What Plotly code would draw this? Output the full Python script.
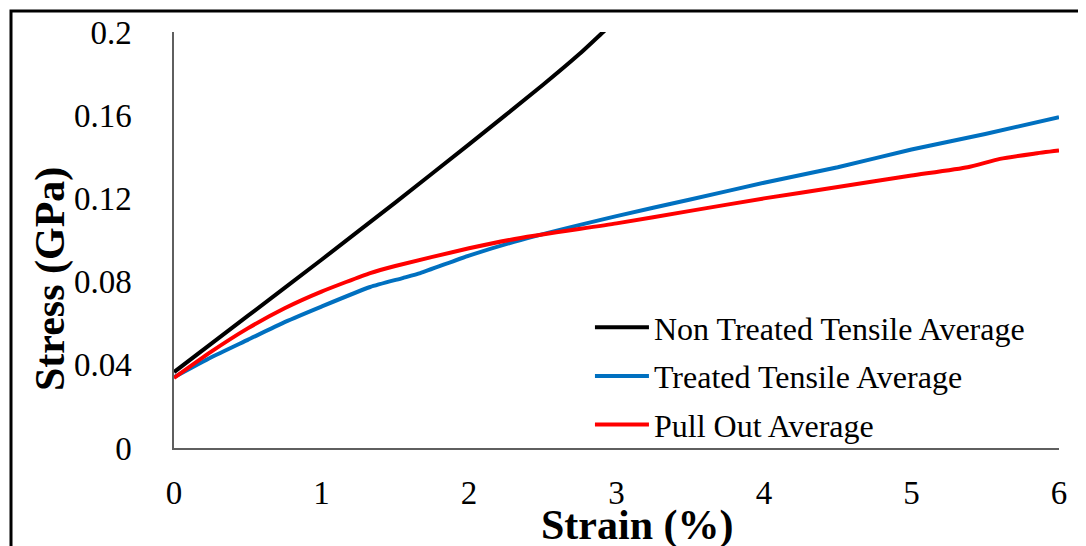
import plotly.graph_objects as go

# Data
strain_non_treated = [0, 0.5, 1.0, 1.5, 2.0, 2.5, 2.75, 2.91, 3.0]
stress_non_treated = [0.0365, 0.0635, 0.0905, 0.118, 0.146, 0.1745, 0.1895, 0.200, 0.2055]

strain_treated = [0, 0.25, 0.5, 0.75, 1.0, 1.33, 1.55, 1.67, 2.0, 2.35, 3.0, 3.5, 4.0, 4.5, 5.0, 5.5, 6.0]
stress_treated = [0.034, 0.0435, 0.052, 0.0605, 0.068, 0.0774, 0.0817, 0.0841, 0.0925, 0.100, 0.1115, 0.1195, 0.1275, 0.135, 0.1435, 0.151, 0.159]

strain_pull = [0, 0.25, 0.5, 0.75, 1.0, 1.33, 1.5, 2.0, 2.35, 3.0, 3.5, 4.0, 4.5, 5.0, 5.38, 5.6, 5.83, 6.0]
stress_pull = [0.0337, 0.0462, 0.0575, 0.0672, 0.0752, 0.0841, 0.0875, 0.0960, 0.101, 0.108, 0.114, 0.120, 0.1255, 0.131, 0.135, 0.139, 0.1415, 0.143]

x_ticks = [0, 1, 2, 3, 4, 5, 6]
y_ticks = [0, 0.04, 0.08, 0.12, 0.16, 0.2]
y_tick_labels = ["0", "0.04", "0.08", "0.12", "0.16", "0.2"]

series = [
    ("Non Treated Tensile Average", strain_non_treated, stress_non_treated, "#000000"),
    ("Treated Tensile Average", strain_treated, stress_treated, "#0070C0"),
    ("Pull Out Average", strain_pull, stress_pull, "#FF0000"),
]

FONT = "Liberation Serif, Times New Roman, serif"

fig = go.Figure()
for i, (name, xs, ys, color) in enumerate(series):
    fig.add_trace(go.Scatter(
        x=xs, y=ys, name=name, mode="lines",
        line=dict(color=color, width=4, shape="spline", smoothing=0.5),
        legendgroup=str(i),
    ))

# The page body has an 8px default margin, so the figure is 8px smaller and shifted.
fig.update_layout(
    width=1078, height=538,
    margin=dict(l=166, r=27, t=24, b=98, autoexpand=False),
    paper_bgcolor="white", plot_bgcolor="white",
    font=dict(family=FONT, size=32, color="black"),
    showlegend=True,
    legend=dict(
        x=0.470, y=0.173, xanchor="left", yanchor="middle",
        bgcolor="rgba(0,0,0,0)",
        font=dict(family=FONT, size=32, color="black"),
        itemwidth=54,
        tracegroupgap=4,
        traceorder="grouped",
    ),
    xaxis=dict(
        range=[0, 6], tickvals=x_ticks, ticktext=[str(v) for v in x_ticks],
        showgrid=False, zeroline=False, showline=True, automargin=False,
        linecolor="#5f5f5f", linewidth=1.5, ticks="",
        tickfont=dict(family=FONT, size=33, color="black"),
        ticklabelstandoff=15,
    ),
    yaxis=dict(
        range=[0, 0.2], tickvals=y_ticks, ticktext=y_tick_labels,
        showgrid=False, zeroline=False, showline=True, automargin=False,
        linecolor="#5f5f5f", linewidth=1.5, ticks="",
        tickfont=dict(family=FONT, size=33, color="black"),
        ticklabelstandoff=34,
    ),
    annotations=[
        dict(text="<b>Strain (%)</b>", xref="paper", yref="paper",
             x=(637 - 174) / 885, y=(448 - 525) / 416, xanchor="center", yanchor="middle",
             showarrow=False, font=dict(family=FONT, size=42, color="black")),
        dict(text="<b>Stress (GPa)</b>", xref="paper", yref="paper", textangle=-90,
             x=(50 - 174) / 885, y=(448 - 279) / 416, xanchor="center", yanchor="middle",
             showarrow=False, font=dict(family=FONT, size=42, color="black")),
    ],
    shapes=[
        dict(type="rect", xref="paper", yref="paper",
             x0=(11 - 174) / 885, x1=(1110 - 174) / 885,
             y0=(448 - 570) / 416, y1=(448 - 11) / 416,
             line=dict(color="black", width=3), fillcolor="rgba(0,0,0,0)", layer="above"),
    ],
)

fig.write_html("out.html")
